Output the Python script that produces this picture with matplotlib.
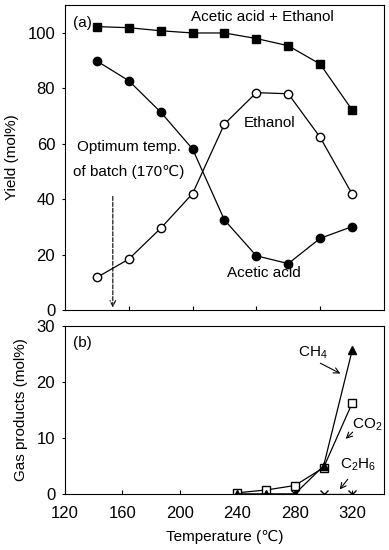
import numpy as np
import matplotlib
matplotlib.use('Agg')
import matplotlib.pyplot as plt

plt.rcParams['font.family'] = ['Liberation Sans', 'DejaVu Sans']
plt.rcParams['mathtext.fontset'] = 'custom'
plt.rcParams['mathtext.rm'] = 'Liberation Sans'
plt.rcParams['mathtext.it'] = 'Liberation Sans:italic'

# (a) liquid products
temp_a = [140, 160, 180, 200, 220, 240, 260, 280, 300]
total = [102.2, 101.8, 100.7, 99.9, 99.9, 97.9, 95.3, 88.7, 72.2]
acetic = [89.8, 82.7, 71.4, 58.1, 32.5, 19.6, 16.8, 25.9, 30.1]
ethanol = [11.8, 18.4, 29.5, 42.0, 67.1, 78.4, 78.0, 62.3, 41.9]

# (b) gas products
temp_b = [240, 260, 280, 300, 320]
co2 = [0.2, 0.7, 1.5, 4.7, 16.3]
ch4 = [0.0, 0.0, 0.0, 5.0, 25.8]
c2h6 = [0.0, 0.0, 0.0, 0.0, 0.0]

fig = plt.figure(figsize=(3.89, 5.50), dpi=100)
ax1 = fig.add_axes([0.167, 0.436, 0.820, 0.555])
ax2 = fig.add_axes([0.167, 0.102, 0.820, 0.305])

lw = 0.9
ax1.plot(temp_a, total, 's-', color='k', lw=lw, ms=6)
ax1.plot(temp_a, acetic, 'o-', color='k', lw=lw, ms=6)
ax1.plot(temp_a, ethanol, 'o-', color='k', mfc='white', lw=lw, ms=6)

ax1.set_xlim(120, 320)
ax1.set_ylim(0, 110)
ax1.set_yticks(np.arange(0, 101, 20))
ax1.set_xticks([160, 200, 240, 280])
ax1.tick_params(axis='x', direction='in', labelbottom=False, length=3)
ax1.tick_params(axis='y', direction='out', length=2, labelsize=12, pad=5)
ax1.set_ylabel('Yield (mol%)', fontsize=11, labelpad=6)

ax1.text(0.025, 0.965, '(a)', transform=ax1.transAxes, fontsize=11, va='top')
ax1.text(244, 105.7, 'Acetic acid + Ethanol', fontsize=11, ha='center', va='center')
ax1.text(248, 67.4, 'Ethanol', fontsize=11, ha='center', va='center')
ax1.text(245, 13.3, 'Acetic acid', fontsize=11, ha='center', va='center')
ax1.text(160, 58.8, 'Optimum temp.', fontsize=11, ha='center', va='center')
ax1.text(160, 49.8, 'of batch (170℃)', fontsize=11, ha='center', va='center')
ax1.annotate('', xy=(150, 0), xytext=(150, 42),
             arrowprops=dict(arrowstyle='->', linestyle='--', color='k', lw=0.8))

ax2.plot(temp_b, c2h6, 'x-', color='k', lw=lw, ms=6)
ax2.plot(temp_b, co2, 's-', color='k', mfc='white', lw=lw, ms=6)
ax2.plot(temp_b, ch4, '^-', color='k', lw=lw, ms=6)

ax2.set_xlim(120, 342)
ax2.set_ylim(0, 30)
ax2.set_xticks([120, 160, 200, 240, 280, 320])
ax2.set_yticks([0, 10, 20, 30])
ax2.tick_params(axis='x', direction='in', length=3, labelsize=12, pad=9)
ax2.tick_params(axis='y', direction='out', length=2, labelsize=12, pad=5)
ax2.set_xlabel('Temperature (℃)', fontsize=11, labelpad=6)
ax2.set_ylabel('Gas products (mol%)', fontsize=11, labelpad=6)

ax2.text(0.025, 0.94, '(b)', transform=ax2.transAxes, fontsize=11, va='top')
ax2.text(292.5, 25.2, r'CH$_4$', fontsize=11, ha='center', va='center')
ax2.text(330, 12.3, r'CO$_2$', fontsize=11, ha='center', va='center')
ax2.text(324, 5.2, r'C$_2$H$_6$', fontsize=11, ha='center', va='center')
arrow = dict(arrowstyle='->', color='k', lw=0.8)
ax2.annotate('', xy=(313.4, 21.3), xytext=(296, 23.6), arrowprops=arrow)
ax2.annotate('', xy=(314, 9.5), xytext=(321.7, 11.4), arrowprops=arrow)
ax2.annotate('', xy=(310, 0.4), xytext=(318, 3.0), arrowprops=arrow)

fig.align_ylabels([ax1, ax2])
fig.savefig('out.png', dpi=100)
